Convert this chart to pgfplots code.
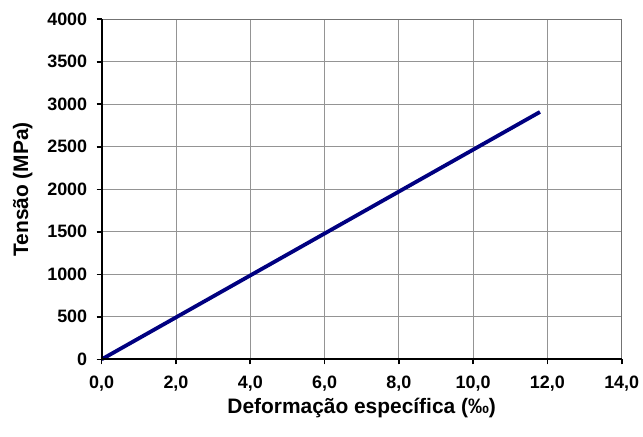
\documentclass[border=0pt]{standalone}
\usepackage{pgfplots}
\pgfplotsset{compat=1.18}
\usepackage{fontspec}
\setmainfont{Liberation Sans}
\begin{document}
\begin{tikzpicture}[x=1bp,y=1bp]
\path[use as bounding box] (-101.7bp,-77.7bp) rectangle (541.3bp,359.3bp);
\begin{axis}[
  at={(0,0)}, anchor=south west,
  scale only axis,
  width=520bp, height=340bp,
  xmin=0, xmax=14, ymin=0, ymax=4000,
  xtick={0,2,...,14}, ytick={0,500,...,4000},
  xticklabel={\pgfmathprintnumber[fixed, fixed zerofill, precision=1, use comma, assume math mode=true]{\tick}},
  yticklabel={\pgfmathprintnumber[fixed, 1000 sep={}, assume math mode=true]{\tick}},
  every tick label/.append style={font=\bfseries\fontsize{18}{21}\selectfont, text=black},
  grid=major,
  major grid style={color=black!42, line width=0.8bp},
  axis line style={color=black!55, line width=0.8bp},
  tick pos=left, tick align=outside,
  major tick length=5bp,
  tick style={black, line width=1.6bp},
  xticklabel style={yshift=-8bp},
  yticklabel style={xshift=-6bp},
  label style={font=\bfseries\fontsize{21}{25}\selectfont},
  xlabel={Deformação específica (‰)},
  ylabel={Tensão (MPa)},
  xlabel style={at={(axis description cs:0.5,0)}, anchor=center, yshift=-49bp},
  ylabel style={at={(axis description cs:0,0.5)}, anchor=center, yshift=79bp},
  clip=false,
]
\addplot[color={rgb,255:red,0;green,0;blue,128}, line width=3.8bp] coordinates {(0,0) (11.8,2910)};
\draw[black, line width=2bp] (rel axis cs:0,1) -- (rel axis cs:0,0) -- (rel axis cs:1,0);
\end{axis}
\end{tikzpicture}
\end{document}
